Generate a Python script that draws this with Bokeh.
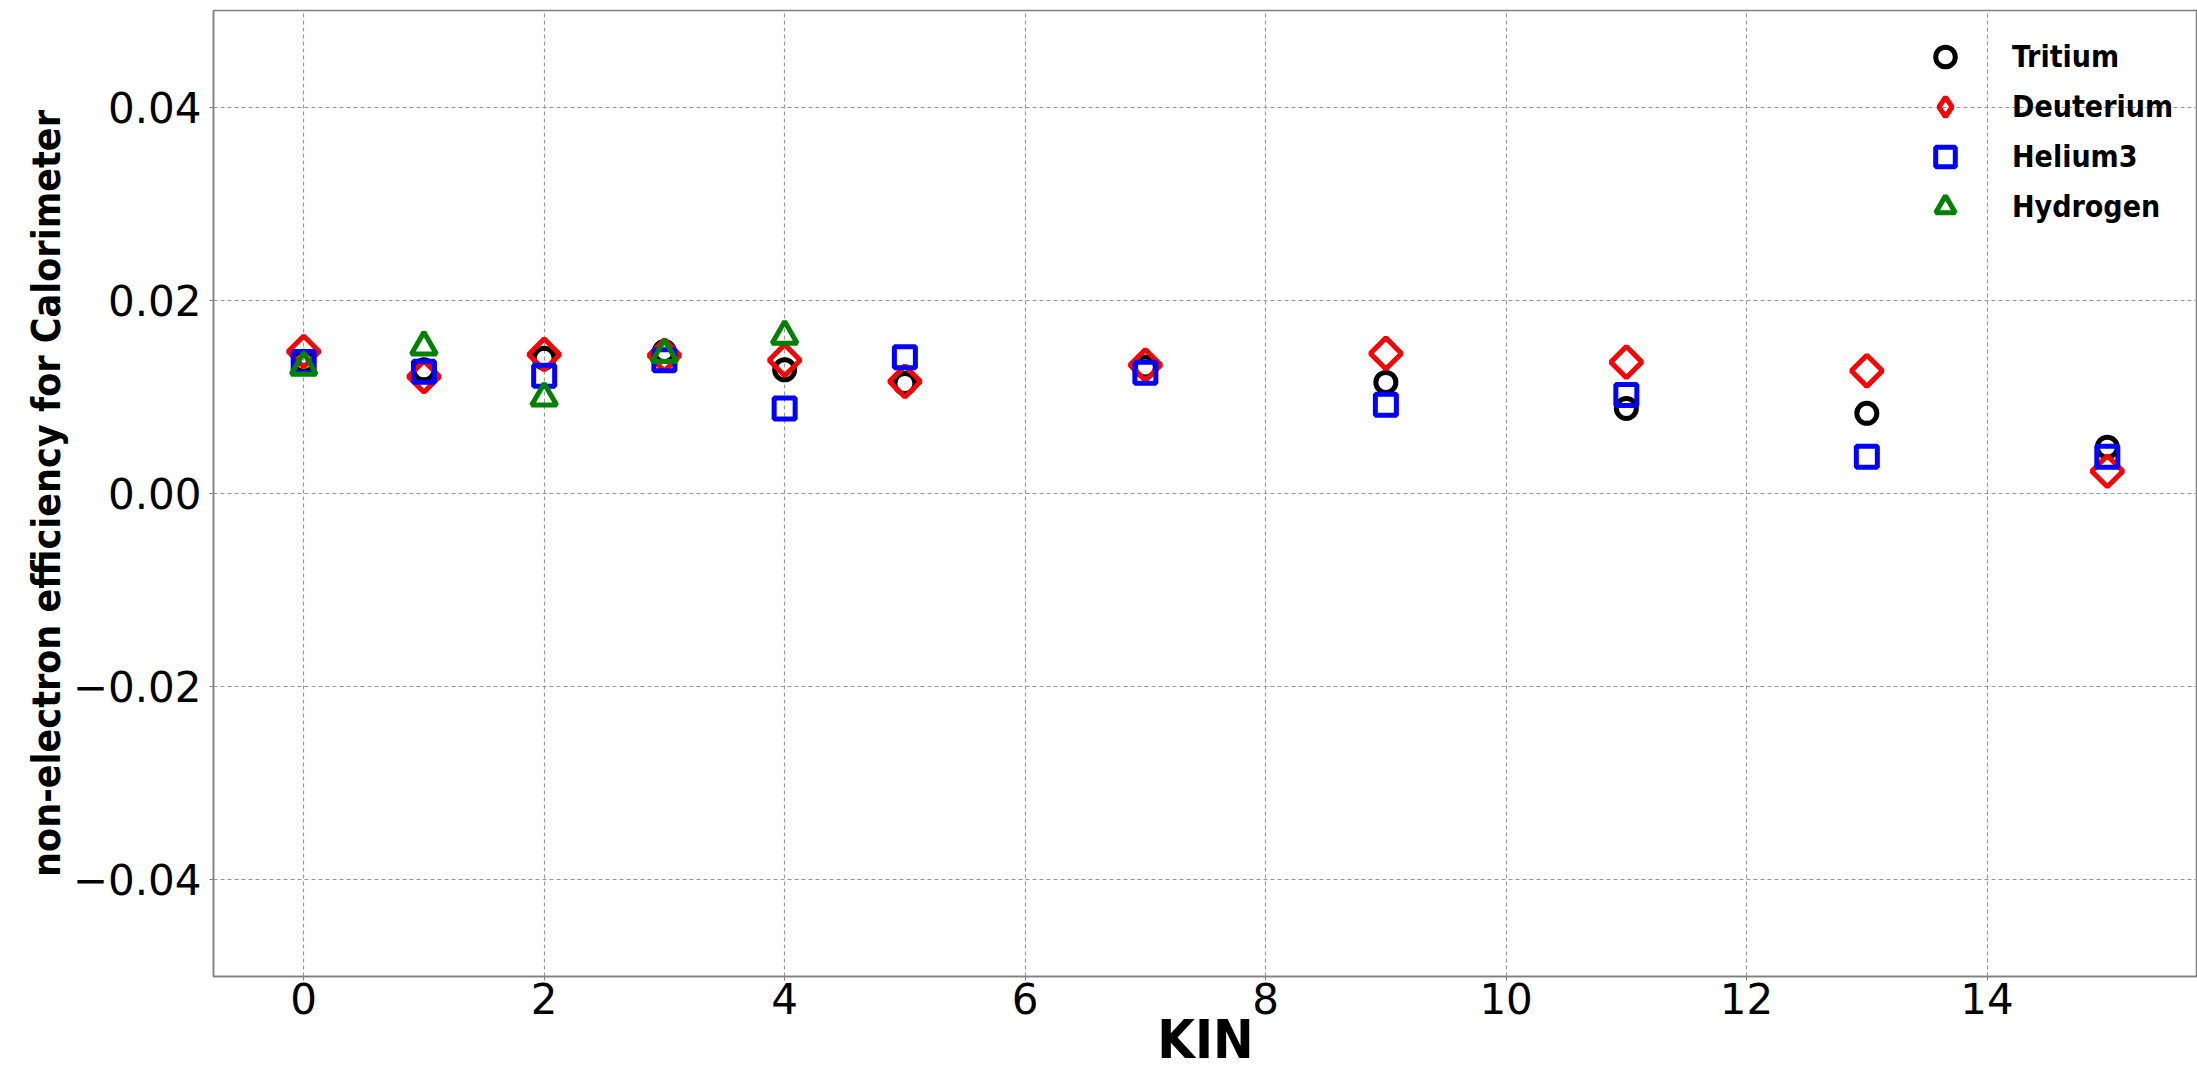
from bokeh.plotting import figure
from bokeh.models import Range1d, FixedTicker, CustomJSTickFormatter, Legend, LegendItem
from bokeh.embed import file_html
from bokeh.resources import INLINE
import math

kin = [0, 1, 2, 3, 4, 5, 7, 9, 11, 13, 15]
tritium = [0.0137, 0.0128, 0.0140, 0.0147, 0.0128, 0.0114, 0.0131, 0.0115, 0.0088, 0.0083, 0.0048]
deuterium = [0.0147, 0.0121, 0.0144, 0.0143, 0.0138, 0.0116, 0.0133, 0.0145, 0.0136, 0.0127, 0.0023]
helium3 = [0.0136, 0.0126, 0.0122, 0.0138, 0.0088, 0.0141, 0.0125, 0.0092, 0.0102, 0.0038, 0.0038]
kin_h = [0, 1, 2, 3, 4]
hydrogen = [0.0131, 0.0152, 0.0099, 0.0144, 0.0163]

x_ticks = [0, 2, 4, 6, 8, 10, 12, 14]
y_ticks = [-0.04, -0.02, 0.0, 0.02, 0.04]

COND = "DejaVu Sans Condensed"

p = figure(width=2197, height=1074, output_backend="svg", toolbar_location=None,
           x_range=Range1d(-0.75, 15.75), y_range=Range1d(-0.05, 0.05),
           min_border_left=213, min_border_right=0, min_border_top=10, min_border_bottom=98)
p.background_fill_color = "white"
p.border_fill_color = "white"
p.outline_line_color = "#808080"
p.outline_line_width = 1.5

for ax in (p.xaxis[0], p.yaxis[0]):
    ax.axis_line_color = "#808080"
    ax.axis_line_width = 1.5
    ax.major_tick_line_color = "#808080"
    ax.major_tick_out = 4
    ax.major_tick_in = 0
    ax.minor_tick_line_color = None
    ax.major_label_text_font = "DejaVu Sans"
    ax.major_label_text_font_size = "42px"
    ax.major_label_text_color = "black"
    ax.axis_label_text_font = COND
    ax.axis_label_text_font_style = "bold"
    ax.axis_label_text_color = "black"

p.xaxis.ticker = FixedTicker(ticks=x_ticks)
p.yaxis.ticker = FixedTicker(ticks=y_ticks)
p.yaxis.formatter = CustomJSTickFormatter(code="return (tick < -1e-9 ? '\u2212' : '') + Math.abs(tick).toFixed(2);")
p.xaxis.major_label_standoff = 2
p.yaxis.major_label_standoff = 8
p.xaxis.axis_label = "KIN"
p.xaxis.axis_label_text_font_size = "54px"
p.xaxis.axis_label_standoff = -9
p.yaxis.axis_label = "non-electron efficiency for Calorimeter"
p.yaxis.axis_label_text_font_size = "39px"
p.yaxis.axis_label_standoff = 1

p.grid.grid_line_color = "#999999"
p.grid.grid_line_dash = "4 3"
p.grid.grid_line_width = 1.2
p.xgrid.ticker = FixedTicker(ticks=x_ticks)
p.ygrid.ticker = FixedTicker(ticks=y_ticks)

r_t = p.scatter(kin, tritium, marker="circle", size=20, fill_color=None,
                line_color="black", line_width=5)
r_d = p.scatter(kin, deuterium, marker="square", angle=math.pi / 4, size=22, fill_color=None,
                line_color="#ff0000", line_width=5)
r_he = p.scatter(kin, helium3, marker="square", size=21, fill_color=None,
                 line_color="#0000ff", line_width=5)
r_h = p.scatter(kin_h, hydrogen, marker="triangle", size=25, fill_color=None,
                line_color="#008000", line_width=5)
# legend swatch for the diamond (legend glyphs are drawn unrotated); holds no visible point
r_d_leg = p.scatter([math.nan], [math.nan], marker="diamond", size=30, fill_color=None,
                    line_color="#ff0000", line_width=5)

legend = Legend(items=[LegendItem(label="Tritium", renderers=[r_t]),
                       LegendItem(label="Deuterium", renderers=[r_d_leg]),
                       LegendItem(label="Helium3", renderers=[r_he]),
                       LegendItem(label="Hydrogen", renderers=[r_h])],
                location=(1702, 745))
legend.background_fill_alpha = 0
legend.border_line_color = None
legend.glyph_height = 49
legend.glyph_width = 60
legend.label_height = 49
legend.spacing = 1
legend.padding = 0
legend.margin = 0
legend.label_standoff = 37
legend.label_text_font = COND
legend.label_text_font_style = "bold"
legend.label_text_font_size = "30px"
legend.label_text_color = "black"
p.add_layout(legend)

open("out.html", "w").write(file_html(p, INLINE))
